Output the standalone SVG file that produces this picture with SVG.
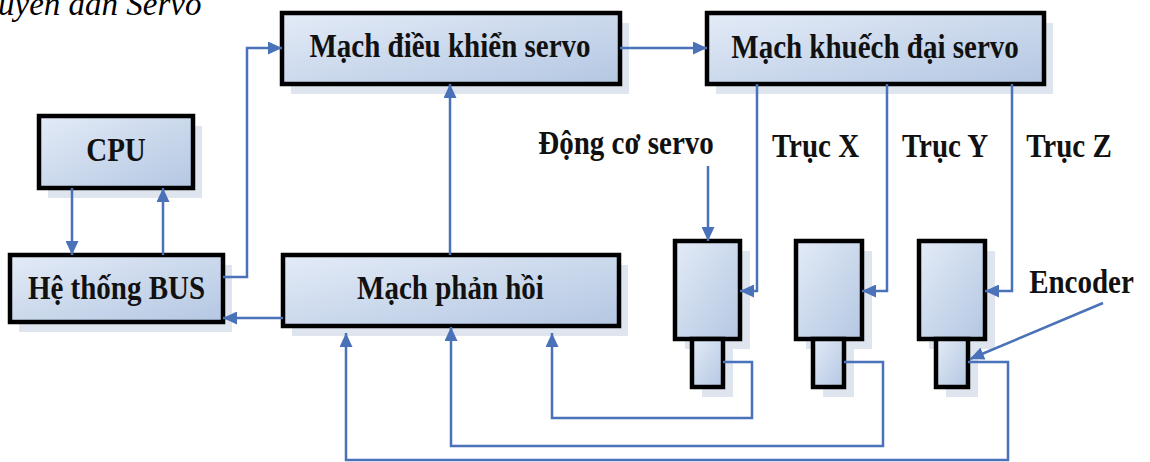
<svg xmlns="http://www.w3.org/2000/svg" width="1150" height="462" viewBox="0 0 1150 462">
<defs>
<linearGradient id="g" x1="0" y1="0" x2="1" y2="1">
<stop offset="0" stop-color="#e3ebf7"/>
<stop offset="1" stop-color="#b4c7e2"/>
</linearGradient>
<marker id="ah" markerUnits="userSpaceOnUse" markerWidth="15" markerHeight="13" refX="14" refY="6.5" orient="auto">
<path d="M0,0 L14,6.5 L0,13 z" fill="#4a72b8"/>
</marker>
</defs>
<style>
.box{fill:url(#g);stroke:#000;stroke-width:4.5}
.sh{fill:#dfe5ee}
.t{font-family:"Liberation Serif","Times New Roman",serif;font-weight:bold;font-size:29px;fill:#111;text-anchor:middle}
.c{fill:none;stroke:#4a72b8;stroke-width:2.5}
.a{marker-end:url(#ah)}
.title{font-family:"Liberation Serif","Times New Roman",serif;font-style:italic;font-size:33px;fill:#000}
</style>
<rect width="1150" height="462" fill="#fff"/>
<text class="title" x="-2" y="15">uyen dan Servo</text>

<g id="n-dieukhien">
<rect class="sh" x="291" y="23" width="338" height="71"/>
<rect class="box" x="282" y="13" width="338" height="71"/>
<text class="t" transform="translate(450,57) scale(1,1.17)">Mạch điều khiển servo</text>
</g>
<g id="n-khuechdai">
<rect class="sh" x="716" y="23" width="337" height="71"/>
<rect class="box" x="707" y="13" width="337" height="71"/>
<text class="t" transform="translate(875,58) scale(1,1.17)">Mạch khuếch đại servo</text>
</g>
<g id="n-cpu">
<rect class="sh" x="48" y="126" width="154" height="72"/>
<rect class="box" x="39" y="116" width="154" height="72"/>
<text class="t" transform="translate(116,161) scale(1,1.17)">CPU</text>
</g>
<g id="n-bus">
<rect class="sh" x="19" y="265" width="213" height="67"/>
<rect class="box" x="10" y="255" width="213" height="67"/>
<text class="t" transform="translate(116.5,299) scale(1,1.17)">Hệ thống BUS</text>
</g>
<g id="n-phanhoi">
<rect class="sh" x="292" y="265" width="336" height="71"/>
<rect class="box" x="283" y="255" width="336" height="71"/>
<text class="t" transform="translate(450.5,299) scale(1,1.17)">Mạch phản hồi</text>
</g>
<g id="n-motor1">
<rect class="sh" x="685" y="251" width="65" height="98"/>
<rect class="sh" x="702" y="349" width="31" height="48"/>
<rect class="box" x="675" y="241" width="65" height="98"/>
<rect class="box" x="692" y="339" width="31" height="48"/>
</g>
<g id="n-motor2">
<rect class="sh" x="806" y="251" width="66" height="98"/>
<rect class="sh" x="823" y="349" width="31" height="48"/>
<rect class="box" x="796" y="241" width="66" height="98"/>
<rect class="box" x="813" y="339" width="31" height="48"/>
</g>
<g id="n-motor3">
<rect class="sh" x="929" y="251" width="66" height="98"/>
<rect class="sh" x="946" y="349" width="32" height="48"/>
<rect class="box" x="919" y="241" width="66" height="98"/>
<rect class="box" x="936" y="339" width="32" height="48"/>
</g>
<g id="labels">
<text class="t" transform="translate(626,154) scale(1,1.17)">Động cơ servo</text>
<text class="t" transform="translate(815.5,157) scale(1,1.17)">Trục X</text>
<text class="t" transform="translate(945,157) scale(1,1.17)">Trục Y</text>
<text class="t" transform="translate(1069,157) scale(1,1.17)">Trục Z</text>
<text class="t" transform="translate(1081.5,293) scale(1,1.17)">Encoder</text>
</g>

<g id="connectors">
<path class="c a" d="M72,188 V255"/>
<path class="c a" d="M163,255 V188"/>
<path class="c a" d="M223,277 H247 V48 H282"/>
<path class="c a" d="M283,318 H223"/>
<path class="c a" d="M450,255 V84"/>
<path class="c a" d="M620,48 H707"/>
<path class="c a" d="M757,84 V291 H740"/>
<path class="c a" d="M887,84 V291 H862"/>
<path class="c a" d="M1012,84 V291 H985"/>
<path class="c a" d="M708,166 V241"/>
<path class="c a" d="M1103,303 L970,359"/>
<path class="c a" d="M723,362 H752 V418 H552 V333"/>
<path class="c a" d="M844,362 H883 V446 H451 V327"/>
<path class="c a" d="M968,362 H1008 V460 H346 V333"/>
</g>
</svg>
